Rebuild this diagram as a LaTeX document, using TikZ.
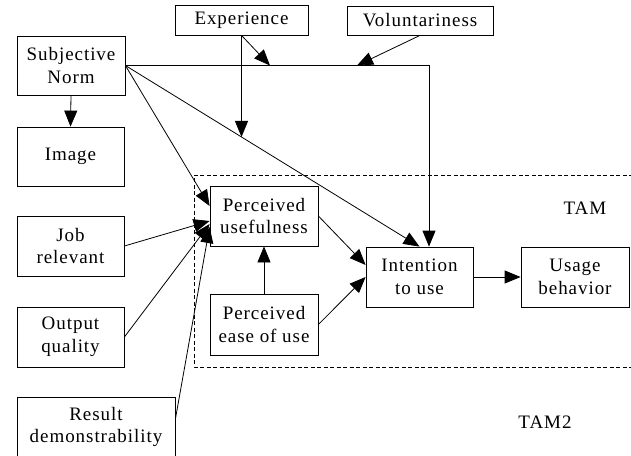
\documentclass[tikz,border=0pt]{standalone}
\usepackage{fontspec}
\setmainfont{Liberation Serif}[LetterSpace=5]
\usetikzlibrary{arrows.meta,calc}
\begin{document}
\begin{tikzpicture}[x=1pt,y=-1pt,
  font=\fontsize{19}{22.5}\selectfont,
  box/.style={draw, line width=0.8pt, align=center, inner sep=0pt, fill=white},
  arr/.style={-{Triangle[length=16pt,width=13pt]}, line width=0.8pt}]
\useasboundingbox (0,0) rectangle (631,455);
% dashed TAM frame
\draw[dash pattern=on 4pt off 2.5pt, line width=0.6pt] (633,175) -- (194,175) -- (194,367) -- (633,367);
% nodes
\node[box, minimum width=108pt, minimum height=59pt] (SN) at (71,65.5) {Subjective\\Norm};
\node[box, minimum width=107pt, minimum height=59pt] (Img) at (70.5,156.5) {Image};
\node[box, minimum width=107pt, minimum height=60pt] (Job) at (70.5,246) {Job\\relevant};
\node[box, minimum width=107pt, minimum height=60pt] (Out) at (70.5,337) {Output\\quality};
\node[box, minimum width=158pt, minimum height=60pt] (Res) at (96,427) {Result\\demonstrability};
\node[box, minimum width=133pt, minimum height=30pt] (Exp) at (241.5,20) {Experience};
\node[box, minimum width=146pt, minimum height=29pt] (Vol) at (420,20.5) {Voluntariness};
\node[box, minimum width=108pt, minimum height=60pt] (PU) at (264,216) {Perceived\\usefulness};
\node[box, minimum width=108pt, minimum height=61pt] (PE) at (264,324.5) {Perceived\\ease of use};
\node[box, minimum width=107pt, minimum height=60pt] (In) at (419.5,277) {Intention\\to use};
\node[box, minimum width=108pt, minimum height=60pt] (Us) at (575,277) {Usage\\behavior};
\node (tam) at (585,208) {TAM};
\node (tamtwo) at (545,422) {TAM2};
% helper coordinates
\coordinate (vc) at (429,65.5);
\coordinate (vt) at (357,65.5);
\coordinate (et) at (270,65.5);
\coordinate (eb) at (Exp.south |- In.north);
% connectors
\draw[arr] (SN.east) -- (vc) -- (vc |- In.north);
\draw[arr] (Vol.south) -- (vt);
\draw[arr] (Exp.south) -- (et);
\draw[arr] (SN.east) -- (In.north);
\draw[arr] (Exp.south) -- (intersection of SN.east--In.north and Exp.south--eb);
\draw[arr] (SN.east) -- ($(PU.west)+(0,-10)$);
\draw[arr] (SN.south) -- (Img.north);
\draw[arr] (Job.east) -- ($(PU.west)+(0,5)$);
\draw[arr] (Out.east) -- ($(PU.west)+(0,8)$);
\draw[arr] ($(Res.east)+(0,-8)$) -- ($(PU.west)+(0,11)$);
\draw[arr] (PE.north) -- (PU.south);
\draw[arr] (PU.east) -- ($(In.west)+(0,-12)$);
\draw[arr] (PE.east) -- (In.west);
\draw[arr] (In.east) -- (Us.west);
\end{tikzpicture}
\end{document}
